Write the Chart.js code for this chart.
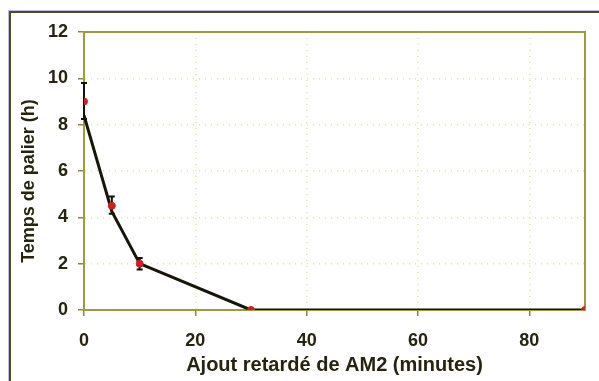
<!DOCTYPE html>
<html>
<head>
<meta charset="utf-8">
<script src="https://cdn.jsdelivr.net/npm/chart.js@4.4.3/dist/chart.umd.min.js"></script>
<style>
    html, body { margin: 0; padding: 0; background: #fff; }
    .wrap { position: relative; width: 599px; height: 381px; overflow: hidden; }
    .frame {
        position: absolute; left: 9px; top: 11px; width: 640px; height: 420px;
        border: 2px solid #4e4c18; box-shadow: 0 0 0 1px #b9b9ee;
    }
    canvas { position: absolute; left: 0; top: 0; }
</style>
</head>
<body>
<div class="wrap">
    <div class="frame"></div>
    <canvas id="chart" width="599" height="381"></canvas>
</div>
<script>
// delay of AM2 addition (minutes)
const delays = [0, 5, 10, 30, 90];
// fitted curve (black line) and measured means (red dots)
const lineValues = [8.4, 4.25, 2.0, 0, 0];
const meanValues = [9.0, 4.5, 2.0, 0, 0];
// error bars, low / high
const errLow = [8.25, 4.15, 1.75, 0, 0];
const errHigh = [9.8, 4.9, 2.25, 0, 0];

const xTicks = [0, 20, 40, 60, 80];
const yTicks = [0, 2, 4, 6, 8, 10, 12];

const textColor = '#25250f';
const olive = '#9c9c3c';
const gridColor = '#e6e69c';

const frameAndErrors = {
    id: 'frameAndErrors',
    beforeDatasetsDraw(chart) {
        const { ctx, chartArea: a, scales: { x, y } } = chart;
        ctx.save();
        ctx.strokeStyle = olive;
        ctx.lineWidth = 2;
        ctx.strokeRect(a.left, a.top, a.right - a.left, a.bottom - a.top);

        ctx.strokeStyle = '#111108';
        ctx.lineWidth = 2;
        delays.forEach((d, i) => {
            if (errHigh[i] === errLow[i]) return;
            const px = x.getPixelForValue(d);
            const top = y.getPixelForValue(errHigh[i]);
            const bot = y.getPixelForValue(errLow[i]);
            ctx.beginPath();
            ctx.moveTo(px, top); ctx.lineTo(px, bot);
            ctx.moveTo(px - 3, top); ctx.lineTo(px + 3, top);
            ctx.moveTo(px - 3, bot); ctx.lineTo(px + 3, bot);
            ctx.stroke();
        });
        ctx.restore();
    }
};

const ctx = document.querySelector('#chart');

new Chart(ctx, {
    type: 'line',
    data: {
        datasets: [
            {
                label: 'moyenne',
                data: delays.map((d, i) => ({ x: d, y: meanValues[i] })),
                showLine: false,
                pointRadius: 3.5,
                pointBackgroundColor: '#d01e1e',
                pointBorderColor: '#d01e1e',
                order: 0
            },
            {
                label: 'courbe',
                data: delays.map((d, i) => ({ x: d, y: lineValues[i] })),
                borderColor: '#15150a',
                borderWidth: 3,
                pointRadius: 0,
                tension: 0,
                order: 1
            }
        ]
    },
    options: {
        responsive: false,
        animation: false,
        layout: { padding: { top: 32, right: 14, left: 0, bottom: 0 } },
        plugins: { legend: { display: false }, tooltip: { enabled: false } },
        scales: {
            x: {
                type: 'linear',
                min: 0,
                max: 90,
                afterFit: (s) => { s.height = 71; },
                afterBuildTicks: (s) => { s.ticks = xTicks.map(v => ({ value: v })); },
                border: { display: true, color: olive, width: 2, dash: [1, 5] },
                grid: {
                    color: (c) => (c.tick && (c.tick.value === 0)) ? 'rgba(0,0,0,0)' : gridColor,
                    lineWidth: 1.5,
                    tickColor: '#8a8a3a',
                    tickLength: 6,
                    tickBorderDash: []
                },
                ticks: {
                    color: textColor,
                    padding: 14,
                    font: { family: 'Liberation Sans, Arial', size: 18, weight: 'bold' }
                },
                title: {
                    display: true,
                    text: 'Ajout retardé de AM2 (minutes)',
                    color: textColor,
                    padding: { top: 0, bottom: 4 },
                    font: { family: 'Liberation Sans, Arial', size: 20, weight: 'bold' }
                }
            },
            y: {
                min: 0,
                max: 12,
                afterFit: (s) => { s.width = 84; },
                afterBuildTicks: (s) => { s.ticks = yTicks.map(v => ({ value: v })); },
                border: { display: true, color: olive, width: 2, dash: [1, 5] },
                grid: {
                    color: (c) => (c.tick && (c.tick.value === 0 || c.tick.value === 12)) ? 'rgba(0,0,0,0)' : gridColor,
                    lineWidth: 1.5,
                    tickColor: '#8a8a3a',
                    tickLength: 6,
                    tickBorderDash: []
                },
                ticks: {
                    color: textColor,
                    padding: 10,
                    font: { family: 'Liberation Sans, Arial', size: 18, weight: 'bold' }
                },
                title: {
                    display: true,
                    // trailing spaces push the rotated title a little lower, as in the original
                    text: 'Temps de palier (h)\u00a0\u00a0\u00a0\u00a0',
                    color: textColor,
                    padding: { top: 18, bottom: 0 },
                    font: { family: 'Liberation Sans, Arial', size: 18, weight: 'bold' }
                }
            }
        }
    },
    plugins: [frameAndErrors]
});
</script>
</body>
</html>
